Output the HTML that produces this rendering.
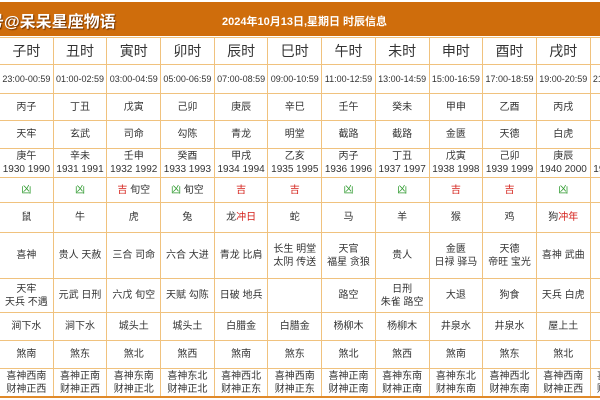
<!DOCTYPE html>
<html><head><meta charset="utf-8"><style>
*{margin:0;padding:0;box-sizing:border-box}
html,body{width:600px;height:400px;overflow:hidden}
body{background:#fff;position:relative;font-family:"Liberation Sans","Noto Sans CJK SC",sans-serif;color:#333}
#wrap{position:absolute;left:0;top:0;width:600px;height:400px;overflow:hidden}
#hd{position:absolute;left:0;top:2px;width:600px;height:34px;background:#cf6d0c;overflow:hidden}
#t1{position:absolute;left:-12px;top:6px;font-size:16px;font-weight:bold;color:#fff;text-shadow:1px 1px 1px #6a3000;white-space:nowrap}
#t2{position:absolute;left:222px;top:11px;font-size:11px;font-weight:bold;color:#fff;white-space:nowrap}
table{position:absolute;left:-1px;top:37px;border-collapse:collapse;table-layout:fixed;width:644.4px}
td{border:1px solid #f0c27e;text-align:center;vertical-align:middle;font-size:10px;line-height:13px;overflow:hidden;white-space:nowrap;padding:0}
tr.h td{font-size:14px}
tr.t td{font-size:9px;font-family:"Liberation Sans",sans-serif}
.r{color:#d4201a}.g{color:#2f9a2f}
#bt{position:absolute;left:0;top:396px;width:600px;height:2px;background:#e08a2a}
</style></head><body><div id="wrap">
<div id="hd"><div id="t1">号@呆呆星座物语</div><div id="t2">2024年10月13日,星期日 时辰信息</div></div>
<table>
<colgroup><col style="width:53.7px"><col style="width:53.7px"><col style="width:53.7px"><col style="width:53.7px"><col style="width:53.7px"><col style="width:53.7px"><col style="width:53.7px"><col style="width:53.7px"><col style="width:53.7px"><col style="width:53.7px"><col style="width:53.7px"><col style="width:53.7px"></colgroup>
<tr class="h" style="height:27px"><td>子时</td><td>丑时</td><td>寅时</td><td>卯时</td><td>辰时</td><td>巳时</td><td>午时</td><td>未时</td><td>申时</td><td>酉时</td><td>戌时</td><td>亥时</td></tr>
<tr class="t" style="height:29px"><td>23:00-00:59</td><td>01:00-02:59</td><td>03:00-04:59</td><td>05:00-06:59</td><td>07:00-08:59</td><td>09:00-10:59</td><td>11:00-12:59</td><td>13:00-14:59</td><td>15:00-16:59</td><td>17:00-18:59</td><td>19:00-20:59</td><td>21:00-22:59</td></tr>
<tr style="height:27px"><td>丙子</td><td>丁丑</td><td>戊寅</td><td>己卯</td><td>庚辰</td><td>辛巳</td><td>壬午</td><td>癸未</td><td>甲申</td><td>乙酉</td><td>丙戌</td><td>丁亥</td></tr>
<tr style="height:28px"><td>天牢</td><td>玄武</td><td>司命</td><td>勾陈</td><td>青龙</td><td>明堂</td><td>截路</td><td>截路</td><td>金匮</td><td>天德</td><td>白虎</td><td>玉堂</td></tr>
<tr style="height:29px"><td>庚午<br>1930 1990</td><td>辛未<br>1931 1991</td><td>壬申<br>1932 1992</td><td>癸酉<br>1933 1993</td><td>甲戌<br>1934 1994</td><td>乙亥<br>1935 1995</td><td>丙子<br>1936 1996</td><td>丁丑<br>1937 1997</td><td>戊寅<br>1938 1998</td><td>己卯<br>1939 1999</td><td>庚辰<br>1940 2000</td><td>辛巳<br>1941 2001</td></tr>
<tr style="height:25px"><td class="g">凶</td><td class="g">凶</td><td><span class="r">吉</span> 旬空</td><td><span class="g">凶</span> 旬空</td><td class="r">吉</td><td class="r">吉</td><td class="g">凶</td><td class="g">凶</td><td class="r">吉</td><td class="r">吉</td><td class="g">凶</td><td class="r">吉</td></tr>
<tr style="height:30px"><td>鼠</td><td>牛</td><td>虎</td><td>兔</td><td>龙<span class="r">冲日</span></td><td>蛇</td><td>马</td><td>羊</td><td>猴</td><td>鸡</td><td>狗<span class="r">冲年</span></td><td>猪</td></tr>
<tr style="height:46px"><td>喜神</td><td>贵人 天赦</td><td>三合 司命</td><td>六合 大进</td><td>青龙 比肩</td><td>长生 明堂<br>太阴 传送</td><td>天官<br>福星 贪狼</td><td>贵人</td><td>金匮<br>日禄 驿马</td><td>天德<br>帝旺 宝光</td><td>喜神 武曲</td><td>玉堂<br>天乙</td></tr>
<tr style="height:34px"><td>天牢<br>天兵 不遇</td><td>元武 日刑</td><td>六戊 旬空</td><td>天赋 勾陈</td><td>日破 地兵</td><td></td><td>路空</td><td>日刑<br>朱雀 路空</td><td>大退</td><td>狗食</td><td>天兵 白虎</td><td>天刑<br>路空</td></tr>
<tr style="height:28px"><td>涧下水</td><td>涧下水</td><td>城头土</td><td>城头土</td><td>白腊金</td><td>白腊金</td><td>杨柳木</td><td>杨柳木</td><td>井泉水</td><td>井泉水</td><td>屋上土</td><td>屋上土</td></tr>
<tr style="height:28px"><td>煞南</td><td>煞东</td><td>煞北</td><td>煞西</td><td>煞南</td><td>煞东</td><td>煞北</td><td>煞西</td><td>煞南</td><td>煞东</td><td>煞北</td><td>煞西</td></tr>
<tr style="height:29px"><td>喜神西南<br>财神正西</td><td>喜神正南<br>财神正西</td><td>喜神东南<br>财神正北</td><td>喜神东北<br>财神正北</td><td>喜神西北<br>财神正东</td><td>喜神西南<br>财神正东</td><td>喜神正南<br>财神正南</td><td>喜神东南<br>财神正南</td><td>喜神东北<br>财神东南</td><td>喜神西北<br>财神东南</td><td>喜神西南<br>财神正西</td><td>喜神正南<br>财神正西</td></tr>
</table>
<div id="bt"></div>
</div></body></html>
